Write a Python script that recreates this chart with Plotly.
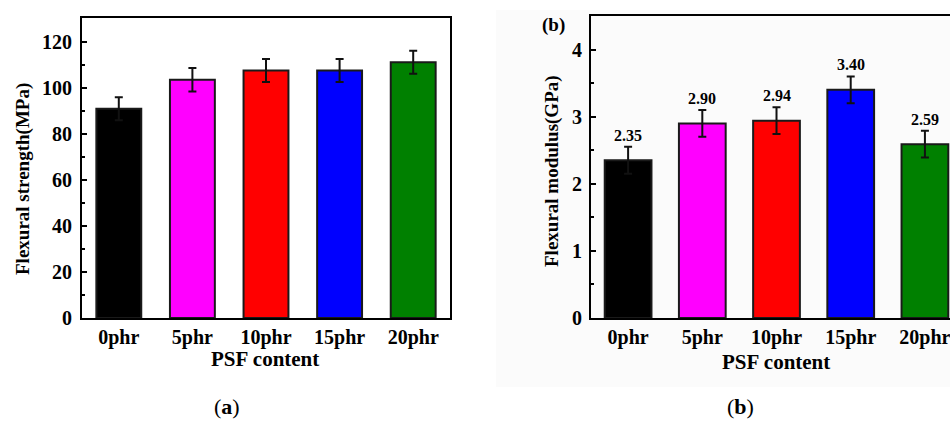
import plotly.graph_objects as go

# Flexural test results for PSF-filled composites
categories = ["0phr", "5phr", "10phr", "15phr", "20phr"]
bar_colors = ["#000000", "#FF00FF", "#FF0000", "#0000FF", "#008000"]

strength_mpa = [91.0, 103.6, 107.6, 107.6, 111.2]
strength_err = [5.0, 5.1, 5.0, 5.0, 5.0]

modulus_gpa = [2.35, 2.90, 2.94, 3.40, 2.59]
modulus_err = [0.20, 0.20, 0.20, 0.20, 0.20]
modulus_labels = ["2.35", "2.90", "2.94", "3.40", "2.59"]

W, H = 950, 421
FONT = "Liberation Serif"


def px_x(p):
    return p / W


def px_y(p):
    return 1 - p / H


fig = go.Figure()

fig.add_trace(go.Bar(
    x=categories, y=strength_mpa, width=0.61,
    marker=dict(color=bar_colors, line=dict(color="#1a1a1a", width=2)),
    error_y=dict(type="data", array=strength_err, color="#111111", thickness=2, width=4),
    xaxis="x", yaxis="y", showlegend=False,
))

fig.add_trace(go.Bar(
    x=categories, y=modulus_gpa, width=0.63,
    marker=dict(color=bar_colors, line=dict(color="#1a1a1a", width=2)),
    error_y=dict(type="data", array=modulus_err, color="#111111", thickness=2, width=4),
    xaxis="x2", yaxis="y2", showlegend=False,
))

tick_font = dict(family=FONT, size=20, color="black", weight="bold")
axis_common = dict(showline=True, linecolor="black", linewidth=2, showgrid=False,
                   zeroline=False, tickfont=tick_font, fixedrange=True, automargin=False)

fig.update_layout(
    width=W, height=H,
    margin=dict(l=0, r=0, t=0, b=0, autoexpand=False),
    paper_bgcolor="white",
    plot_bgcolor="rgba(0,0,0,0)",
    bargap=0.4,
    xaxis=dict(domain=[px_x(82), px_x(450)], range=[-0.5, 4.5], anchor="y",
               mirror=True, ticks="", ticklabelstandoff=0, **axis_common),
    yaxis=dict(domain=[px_y(318), px_y(18)], range=[0, 130.4], anchor="x",
               mirror=True, ticks="inside", ticklen=5, tickwidth=2, tickcolor="black",
               dtick=20, tick0=0, ticklabelstandoff=4,
               minor=dict(ticks="inside", ticklen=3, tickwidth=1.5, tickcolor="black", dtick=10),
               **axis_common),
    xaxis2=dict(domain=[px_x(591), 1.0], range=[-0.5, 4.338], anchor="y2",
                mirror=True, ticks="", ticklabelstandoff=0, **axis_common),
    yaxis2=dict(domain=[px_y(318), px_y(16)], range=[0, 4.5], anchor="x2",
                mirror=False, ticks="inside", ticklen=5, tickwidth=2, tickcolor="black",
                dtick=1, tick0=0, ticklabelstandoff=3,
                minor=dict(ticks="inside", ticklen=3, tickwidth=1.5, tickcolor="black", dtick=0.5),
                **axis_common),
)

# faint grey backdrop behind panel (b)
fig.add_shape(type="rect", xref="paper", yref="paper",
              x0=px_x(496), x1=1.0, y0=px_y(387), y1=px_y(10),
              fillcolor="#fbfbfb", line=dict(width=0), layer="below")

ytitle_font = dict(family=FONT, size=19, color="black")
xtitle_font = dict(family=FONT, size=21, color="black")
ann = [
    dict(text="<b>Flexural strength(MPa)</b>", x=px_x(23), y=px_y(179), textangle=-90, font=ytitle_font),
    dict(text="<b>PSF content</b>", x=px_x(265), y=px_y(359), font=xtitle_font),
    dict(text="<b>Flexural modulus(GPa)</b>", x=px_x(552), y=px_y(171), textangle=-90, font=ytitle_font),
    dict(text="<b>PSF content</b>", x=px_x(776), y=px_y(362), font=xtitle_font),
    dict(text="<b>(b)</b>", x=px_x(553), y=px_y(25), font=dict(family=FONT, size=19, color="black")),
    dict(text="(<b>a</b>)", x=px_x(227), y=px_y(406), font=dict(family=FONT, size=22, color="black")),
    dict(text="(<b>b</b>)", x=px_x(740), y=px_y(406), font=dict(family=FONT, size=22, color="black")),
]
for a in ann:
    fig.add_annotation(xref="paper", yref="paper", showarrow=False,
                       xanchor="center", yanchor="middle", **a)

# value labels above the modulus error bars
for cat, v, e, lab in zip(categories, modulus_gpa, modulus_err, modulus_labels):
    fig.add_annotation(x=cat, y=v + e, xref="x2", yref="y2", text=f"<b>{lab}</b>",
                       showarrow=False, yanchor="bottom", yshift=1,
                       font=dict(family=FONT, size=16, color="black"))

fig.write_html("out.html")
